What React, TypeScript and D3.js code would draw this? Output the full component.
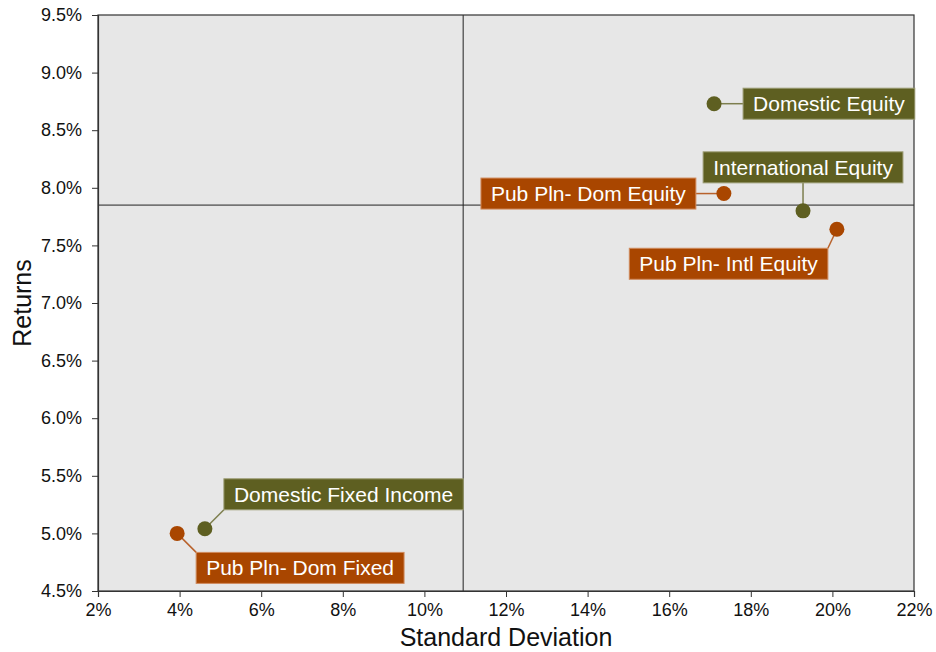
import React, { useEffect, useRef } from "react";
import * as d3 from "d3";

const names = [
  "Domestic Equity",
  "Pub Pln- Dom Equity",
  "International Equity",
  "Pub Pln- Intl Equity",
  "Domestic Fixed Income",
  "Pub Pln- Dom Fixed",
];
const stdDev = [17.1, 17.34, 19.28, 20.11, 4.62, 3.94];
const returns = [8.73, 7.95, 7.8, 7.64, 5.04, 5.0];
const groups = ["index", "plan", "index", "plan", "index", "plan"];
const xTicks = [2, 4, 6, 8, 10, 12, 14, 16, 18, 20, 22];
const yTicks = [4.5, 5.0, 5.5, 6.0, 6.5, 7.0, 7.5, 8.0, 8.5, 9.0, 9.5];
const medianStdDev = 10.95;
const medianReturn = 7.85;

// label placement: which box point attaches, and offset from the dot (px)
const labelAnchor = ["left-mid", "right-mid", "bottom-center", "top-right", "bottom-left", "top-left"];
const labelDx = [29, -28, 0, -9, 19, 19];
const labelDy = [0, 0, -28, 19, -19, 19];

const W = 936, H = 652;
const M = { left: 98, right: 914, top: 15, bottom: 591 };
const fills: Record<string, string> = { index: "#5e5f21", plan: "#a94600" };
const strokes: Record<string, string> = { index: "#9a9b72", plan: "#d08a5c" };
const lines: Record<string, string> = { index: "#7d7e4e", plan: "#b8622c" };

export default function App() {
  const ref = useRef<SVGSVGElement>(null);
  useEffect(() => {
    const svg = d3.select(ref.current!);
    svg.selectAll("*").remove();
    const x = d3.scaleLinear().domain([2, 22]).range([M.left, M.right]);
    const y = d3.scaleLinear().domain([4.5, 9.5]).range([M.bottom, M.top]);
    const font = "Arial, 'Liberation Sans', sans-serif";

    svg.append("rect").attr("x", M.left).attr("y", M.top)
      .attr("width", M.right - M.left).attr("height", M.bottom - M.top)
      .attr("fill", "#e7e7e7");

    // crosshair
    svg.append("line").attr("x1", x(medianStdDev)).attr("x2", x(medianStdDev))
      .attr("y1", M.top).attr("y2", M.bottom).attr("stroke", "#222").attr("stroke-width", 1);
    svg.append("line").attr("x1", M.left).attr("x2", M.right)
      .attr("y1", y(medianReturn)).attr("y2", y(medianReturn)).attr("stroke", "#222").attr("stroke-width", 1);

    // border
    svg.append("rect").attr("x", M.left).attr("y", M.top)
      .attr("width", M.right - M.left).attr("height", M.bottom - M.top)
      .attr("fill", "none").attr("stroke", "#333").attr("stroke-width", 1.2);

    // axes
    const xAxis = svg.append("g").attr("transform", `translate(0,${M.bottom})`)
      .call(d3.axisBottom(x).tickValues(xTicks).tickSize(6).tickPadding(6).tickFormat((d: any) => `${d}%`));
    const yAxis = svg.append("g").attr("transform", `translate(${M.left},0)`)
      .call(d3.axisLeft(y).tickValues(yTicks).tickSize(6).tickPadding(10).tickFormat((d: any) => `${d3.format(".1f")(d)}%`));
    [xAxis, yAxis].forEach((g) => {
      g.select(".domain").attr("stroke", "#333").attr("stroke-width", 1.2);
      g.selectAll(".tick line").attr("stroke", "#333");
      g.selectAll("text").attr("font-family", font).attr("font-size", 18).attr("fill", "#111");
    });

    svg.append("text").attr("x", (M.left + M.right) / 2).attr("y", 646)
      .attr("text-anchor", "middle").attr("font-family", font).attr("font-size", 25)
      .attr("fill", "#111").text("Standard Deviation");
    svg.append("text").attr("transform", `translate(31,${(M.top + M.bottom) / 2}) rotate(-90)`)
      .attr("text-anchor", "middle").attr("font-family", font).attr("font-size", 25)
      .attr("fill", "#111").text("Returns");

    const boxH = 31, pad = 10;
    names.forEach((name, i) => {
      const cx = x(stdDev[i]), cy = y(returns[i]);
      const g = svg.append("g");
      const ax = cx + labelDx[i], ay = cy + labelDy[i];
      g.append("line").attr("x1", cx).attr("y1", cy).attr("x2", ax).attr("y2", ay)
        .attr("stroke", lines[groups[i]]).attr("stroke-width", 1.5);
      const rect = g.append("rect");
      const t = g.append("text").attr("font-family", font).attr("font-size", 21)
        .attr("fill", "#fff").text(name);
      const tw = (t.node() as SVGTextElement).getComputedTextLength();
      const bw = tw + pad * 2;
      let bx = 0, by = 0;
      switch (labelAnchor[i]) {
        case "left-mid": bx = ax; by = ay - boxH / 2; break;
        case "right-mid": bx = ax - bw; by = ay - boxH / 2; break;
        case "bottom-center": bx = ax - bw / 2; by = ay - boxH; break;
        case "top-right": bx = ax - bw; by = ay; break;
        case "bottom-left": bx = ax; by = ay - boxH; break;
        case "top-left": bx = ax; by = ay; break;
      }
      rect.attr("x", bx).attr("y", by).attr("width", bw).attr("height", boxH)
        .attr("fill", fills[groups[i]]).attr("stroke", strokes[groups[i]]).attr("stroke-width", 1);
      t.attr("x", bx + pad).attr("y", by + boxH / 2 + 7.5);
      g.append("circle").attr("cx", cx).attr("cy", cy).attr("r", 7.5)
        .attr("fill", fills[groups[i]]);
    });
  }, []);
  return (
    <svg ref={ref} width={W} height={H}
      style={{ position: "absolute", left: 0, top: 0, display: "block", background: "#fff" }} />
  );
}
